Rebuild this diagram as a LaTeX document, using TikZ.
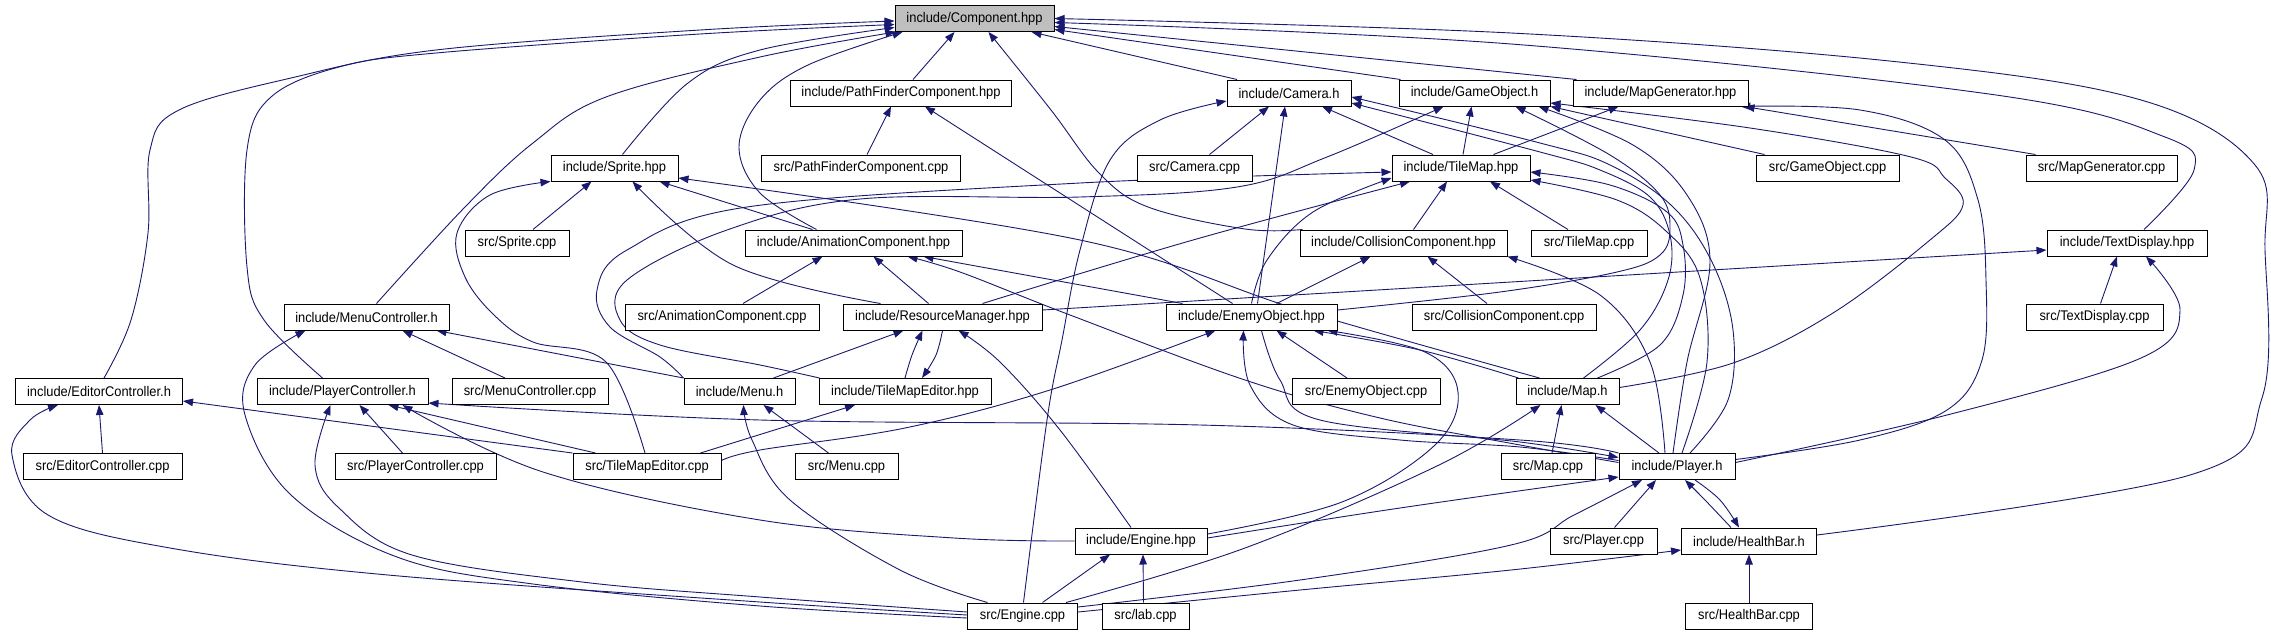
\documentclass[tikz,border=0pt]{standalone}
\usepackage{fontspec}
\setmainfont{Liberation Sans}[FakeStretch=0.92]
\usetikzlibrary{arrows.meta}
\definecolor{edgec}{HTML}{191970}
\definecolor{compfill}{HTML}{BFBFBF}
\pgfdeclarelayer{bg}
\pgfsetlayers{bg,main}
\tikzset{
  box/.style={draw=black, line width=1pt, fill=white, minimum height=26pt, inner sep=0pt, font=\fontsize{14}{16}\selectfont},
  edge/.style={draw=edgec, line width=0.9pt, -{Triangle[length=10pt,width=7.5pt]}},
  sm/.style={smooth, tension=0.6},
}
\begin{document}
\begin{tikzpicture}[x=1pt,y=-1pt]
\useasboundingbox (0,0) rectangle (2271,635);
% row 1
\node[box, minimum width=159pt, fill=compfill] (comp) at (974.5,18.5) {include/Component.hpp};
% row 2
\node[box, minimum width=221pt] (pfc) at (901,93) {include/PathFinderComponent.hpp};
\node[box, minimum width=124pt] (cam) at (1289,93) {include/Camera.h};
\node[box, minimum width=151pt] (gob) at (1474.5,93) {include/GameObject.h};
\node[box, minimum width=175pt] (mgen) at (1660.5,93) {include/MapGenerator.hpp};
% row 3
\node[box, minimum width=127pt] (spr) at (614.5,168) {include/Sprite.hpp};
\node[box, minimum width=199pt] (pfccpp) at (861,168) {src/PathFinderComponent.cpp};
\node[box, minimum width=115pt] (camcpp) at (1194.5,168) {src/Camera.cpp};
\node[box, minimum width=138pt] (tmap) at (1461,168) {include/TileMap.hpp};
\node[box, minimum width=143pt] (gobcpp) at (1827.5,168) {src/GameObject.cpp};
\node[box, minimum width=151pt] (mgencpp) at (2101.5,168) {src/MapGenerator.cpp};
% row 4
\node[box, minimum width=104pt] (sprcpp) at (517,243) {src/Sprite.cpp};
\node[box, minimum width=217pt] (anim) at (853.5,243) {include/AnimationComponent.hpp};
\node[box, minimum width=207pt] (coll) at (1403.5,243) {include/CollisionComponent.hpp};
\node[box, minimum width=116pt] (tmapcpp) at (1589,243) {src/TileMap.cpp};
\node[box, minimum width=160pt] (txt) at (2127,243) {include/TextDisplay.hpp};
% row 5
\node[box, minimum width=165pt] (menuc) at (366.5,317) {include/MenuController.h};
\node[box, minimum width=194pt] (animcpp) at (722,317) {src/AnimationComponent.cpp};
\node[box, minimum width=199pt] (res) at (942.5,317) {include/ResourceManager.hpp};
\node[box, minimum width=171pt] (enemy) at (1251.5,317) {include/EnemyObject.hpp};
\node[box, minimum width=184pt] (collcpp) at (1504,317) {src/CollisionComponent.cpp};
\node[box, minimum width=137pt] (txtcpp) at (2094.5,317) {src/TextDisplay.cpp};
% row 6
\node[box, minimum width=167pt] (edc) at (99,391.5) {include/EditorController.h};
\node[box, minimum width=171pt] (plc) at (342.5,391.5) {include/PlayerController.h};
\node[box, minimum width=156pt] (menuccpp) at (530,391.5) {src/MenuController.cpp};
\node[box, minimum width=111pt] (menu) at (739.5,391.5) {include/Menu.h};
\node[box, minimum width=172pt] (tme) at (905,391.5) {include/TileMapEditor.hpp};
\node[box, minimum width=148pt] (enemycpp) at (1366,391.5) {src/EnemyObject.cpp};
\node[box, minimum width=103pt] (map) at (1567.5,391.5) {include/Map.h};
% row 7
\node[box, minimum width=159pt] (edccpp) at (102.5,466.5) {src/EditorController.cpp};
\node[box, minimum width=161pt] (plccpp) at (415.5,466.5) {src/PlayerController.cpp};
\node[box, minimum width=148pt] (tmecpp) at (647,466.5) {src/TileMapEditor.cpp};
\node[box, minimum width=103pt] (menucpp) at (846.5,466.5) {src/Menu.cpp};
\node[box, minimum width=94pt] (mapcpp) at (1548,466.5) {src/Map.cpp};
\node[box, minimum width=116pt] (player) at (1677,466.5) {include/Player.h};
% row 8
\node[box, minimum width=132pt] (eng) at (1141,541) {include/Engine.hpp};
\node[box, minimum width=107pt] (plcpp) at (1603.5,541) {src/Player.cpp};
\node[box, minimum width=135pt] (hb) at (1749,541) {include/HealthBar.h};
% row 9
\node[box, minimum width=110pt] (engcpp) at (1022.5,616) {src/Engine.cpp};
\node[box, minimum width=87pt] (lab) at (1145.5,616) {src/lab.cpp};
\node[box, minimum width=127pt] (hbcpp) at (1749,616) {src/HealthBar.cpp};

\begin{pgfonlayer}{bg}
\fill[white] (0,0) rectangle (2271,635);
% ---- into Component.hpp
\draw[edge] plot[sm] coordinates {([shift={(5,0)}]edc.north) (131,320) (148,233) (150,150) (179,110) (291,78) (436,50) (700,30) ([shift={(0,2.5)}]comp.west)};
\draw[edge] plot[sm] coordinates {([shift={(-20,0)}]plc.north) (264,320) (247,267) (247,150) (271,97) (339,67) (436,53) (700,34) ([shift={(0,6)}]comp.west)};
\draw[edge] plot[sm] coordinates {([shift={(8,0)}]spr.north) (688,83) (760,50) ([shift={(0,9)}]comp.west)};
\draw[edge] plot[sm] coordinates {([shift={(10,0)}]menuc.north) (465,207) (533,143) (606,97) (760,57) ([shift={(1,0)}]comp.south west)};
\draw[edge] plot[sm] coordinates {([shift={(-37,0)}]anim.north) (760,193) (739,147) (760,100) (808,65) ([shift={(8,0)}]comp.south west)};
\draw[edge] ([shift={(12,0)}]pfc.north) -- ([shift={(-20,0)}]comp.south);
\draw[edge] plot[sm] coordinates {([shift={(3,0)}]coll.north west) (1245,229) (1148,207) (1099,173) (1051,110) ([shift={(14,0)}]comp.south)};
\draw[edge] ([shift={(-52,0)}]cam.north) -- ([shift={(-23,0)}]comp.south east);
\draw[edge] ([shift={(-74,0)}]gob.north) -- ([shift={(0,11)}]comp.east);
\draw[edge] ([shift={(4,0)}]mgen.north west) -- ([shift={(0,8)}]comp.east);
\draw[edge] plot[sm] coordinates {([shift={(17,0)}]txt.north) (2194,170) (2165,137) (1996,95) (1511,44) ([shift={(0,4)}]comp.east)};
\draw[edge] plot[sm] coordinates {([shift={(0,-6)}]hb.east) (2190,475) (2262,398) (2265,250) (2255,165) (2141,100) (1899,62) (1511,33) (comp.east)};
% ---- PathFinderComponent.hpp
\draw[edge] ([shift={(6,0)}]pfccpp.north) -- ([shift={(-10,0)}]pfc.south);
\draw[edge] ([shift={(-19,0)}]enemy.north) -- ([shift={(24,0)}]pfc.south);
% ---- Camera.h
\draw[edge] ([shift={(15,0)}]camcpp.north) -- ([shift={(-20,0)}]cam.south);
\draw[edge] ([shift={(-28,0)}]tmap.north) -- ([shift={(33,0)}]cam.south);
\draw[edge] ([shift={(6,0)}]enemy.north) -- ([shift={(-4,0)}]cam.south);
\draw[edge] plot[sm] coordinates {([shift={(1,0)}]engcpp.north) (1047,420) (1062,340) (1080,250) (1110,160) (1160,120) ([shift={(0,8)}]cam.west)};
\draw[edge] plot[sm] coordinates {([shift={(16,0)}]map.north) (1640,330) (1668,280) (1670,235) (1650,197) (1600,170) (1540,152) ([shift={(0,10)}]cam.east)};
\draw[edge] plot[sm] coordinates {([shift={(13,0)}]player.north) (1728,400) (1733,330) (1712,262) (1672,206) (1610,165) (1540,143) ([shift={(0,4)}]cam.east)};
% ---- GameObject.h
\draw[edge] ([shift={(2,0)}]tmap.north) -- ([shift={(-3,0)}]gob.south);
\draw[edge] plot[sm] coordinates {([shift={(1,0)}]tme.north west) (760,365) (660,345) (620,320) (627,280) (727,230) (860,199) (1080,197) (1237,187) (1327,157) ([shift={(-31,0)}]gob.south)};
\draw[edge] plot[sm] coordinates {([shift={(0,-7)}]enemy.east) (1500,292) (1617,272) (1660,255) (1670,228) (1660,195) (1610,155) ([shift={(41,0)}]gob.south)};
\draw[edge] plot[sm] coordinates {([shift={(-4,0)}]player.north) (1687,362) (1710,262) (1687,195) (1633,145) ([shift={(64,0)}]gob.south)};
\draw[edge] ([shift={(9,0)}]gobcpp.north west) -- (gob.south east);
\draw[edge] plot[sm] coordinates {([shift={(0,-4)}]map.east) (1733,363) (1833,313) (1930,240) (1963,205) (1945,178) (1911,157) (1750,128) ([shift={(0,10)}]gob.east)};
% ---- MapGenerator.hpp
\draw[edge] ([shift={(-37,0)}]tmap.north east) -- ([shift={(-42,0)}]mgen.south);
\draw[edge] ([shift={(10,0)}]mgencpp.north west) -- ([shift={(-4,0)}]mgen.south east);
\draw[edge] plot[sm] coordinates {([shift={(0,-7)}]player.east) (1860,440) (1947,410) (1982,360) (1986,280) (1978,200) (1945,140) (1860,110) ([shift={(-8,0)}]mgen.south east)};
% ---- Sprite.hpp
\draw[edge] ([shift={(16,0)}]sprcpp.north) -- ([shift={(-23,0)}]spr.south);
\draw[edge] ([shift={(-41,0)}]anim.north) -- ([shift={(45,0)}]spr.south);
\draw[edge] plot[sm] coordinates {([shift={(-62,0)}]res.north) (733,265) ([shift={(18,0)}]spr.south)};
\draw[edge] plot[sm] coordinates {([shift={(24,0)}]map.north west) (1300,310) (1080,240) ([shift={(0,10)}]spr.east)};
\draw[edge] plot[sm] coordinates {([shift={(-2,0)}]tmecpp.north) (606,362) (533,342) (494,315) (465,277) (457,233) (490,195) (spr.south west)};
% ---- AnimationComponent.hpp
\draw[edge] ([shift={(21,0)}]animcpp.north) -- ([shift={(-31,0)}]anim.south);
\draw[edge] ([shift={(-14,0)}]res.north) -- ([shift={(20,0)}]anim.south);
\draw[edge] ([shift={(17,0)}]enemy.north west) -- ([shift={(-39,0)}]anim.south east);
\draw[edge] plot[sm] coordinates {([shift={(0,-4)}]player.west) (1520,445) (1380,418) (1245,380) (1070,315) (960,272) ([shift={(-55,0)}]anim.south east)};
% ---- CollisionComponent.hpp
\draw[edge] ([shift={(25,0)}]enemy.north) -- ([shift={(-33,0)}]coll.south);
\draw[edge] ([shift={(-17,0)}]collcpp.north) -- ([shift={(24,0)}]coll.south);
\draw[edge] plot[sm] coordinates {([shift={(-12,0)}]player.north) (1650,362) (1600,295) (coll.south east)};
% ---- TileMap.hpp
\draw[edge] ([shift={(10,0)}]coll.north) -- ([shift={(-14,0)}]tmap.south);
\draw[edge] ([shift={(-21,0)}]tmapcpp.north) -- ([shift={(29,0)}]tmap.south);
\draw[edge] plot[sm] coordinates {([shift={(40,0)}]res.north) (1193,240) ([shift={(-51,0)}]tmap.south)};
\draw[edge] plot[sm] coordinates {(enemy.north) (1267,260) (1313,212) ([shift={(0,10)}]tmap.west)};
\draw[edge] plot[sm] coordinates {(menu.north west) (660,357) (610,327) (597,290) (627,250) (747,207) (1080,183) ([shift={(0,4)}]tmap.west)};
\draw[edge] plot[sm] coordinates {([shift={(30,0)}]map.north) (1660,345) (1683,295) (1683,245) (1667,212) (1610,185) ([shift={(0,4)}]tmap.east)};
\draw[edge] plot[sm] coordinates {([shift={(5,0)}]player.north) (1707,362) (1700,278) (1667,232) (1617,200) ([shift={(0,12)}]tmap.east)};
% ---- Menu.h
\draw[edge] (menu.north west) -- ([shift={(-13,0)}]menuc.south east);
\draw[edge] ([shift={(34,0)}]menu.north) -- ([shift={(-39,0)}]res.south);
\draw[edge] ([shift={(-18,0)}]menucpp.north) -- ([shift={(24,0)}]menu.south);
\draw[edge] plot[sm] coordinates {([shift={(-35,0)}]engcpp.north) (900,570) (790,500) (752,440) ([shift={(4,0)}]menu.south)};
% ---- TileMapEditor.hpp / ResourceManager.hpp
\draw[edge] plot[sm] coordinates {(tme.north) (912,355) ([shift={(-20,0)}]res.south)};
\draw[edge] plot[sm] coordinates {(res.south) (936,355) ([shift={(17,0)}]tme.north)};
\draw[edge] ([shift={(-21,0)}]tmecpp.north east) -- ([shift={(-50,0)}]tme.south);
\draw[edge] plot[sm] coordinates {([shift={(-10,0)}]eng.north) (1060,430) (1000,362) ([shift={(16,0)}]res.south)};
\draw[edge] ([shift={(0,-7)}]res.east) -- ([shift={(0,7)}]txt.west);
% ---- Engine.hpp
\draw[edge] ([shift={(20,0)}]engcpp.north) -- ([shift={(-31,0)}]eng.south);
\draw[edge] ([shift={(-2,0)}]lab.north) -- ([shift={(2,0)}]eng.south);
\draw[edge] plot[sm] coordinates {([shift={(0,-7)}]eng.east) (1342,502) (1435,445) (1458,392) (1425,352) ([shift={(-10,0)}]enemy.south east)};
\draw[edge] plot[sm] coordinates {([shift={(0,-3)}]eng.east) (1400,508) ([shift={(0,-3)}]player.south west)};
\draw[edge] plot[sm] coordinates {(eng.west) (954,538) (760,520) (543,472) ([shift={(-26,0)}]plc.south east)};
% ---- EnemyObject.hpp
\draw[edge] ([shift={(-19,0)}]enemycpp.north) -- ([shift={(25,0)}]enemy.south);
\draw[edge] plot[sm] coordinates {([shift={(3,0)}]map.north west) (1420,350) ([shift={(-24,0)}]enemy.south east)};
\draw[edge] plot[sm] coordinates {([shift={(0,-6)}]player.west) (1520,447) (1400,440) (1293,425) (1250,385) ([shift={(-8,0)}]enemy.south)};
\draw[edge] plot[sm] coordinates {([shift={(10,0)}]enemy.south) (1280,380) (1320,420) (1520,442) ([shift={(0,-9)}]player.west)};
\draw[edge] plot[sm] coordinates {([shift={(0,-6)}]tmecpp.east) (760,450) (905,428) (1050,390) ([shift={(-36,0)}]enemy.south)};
% ---- PlayerController.h
\draw[edge] ([shift={(-13,0)}]plccpp.north) -- ([shift={(17,0)}]plc.south);
\draw[edge] plot[sm] coordinates {([shift={(0,-4)}]engcpp.west) (760,597) (582,582) (412,555) (339,508) (315,465) ([shift={(-12,0)}]plc.south)};
\draw[edge] ([shift={(23,0)}]tmecpp.north west) -- ([shift={(46,0)}]plc.south);
\draw[edge] plot[sm] coordinates {(player.north west) (1520,440) (1200,425) (760,420) ([shift={(0,-2)}]plc.south east)};
% ---- EditorController.h
\draw[edge] (edccpp.north) -- (edc.south);
\draw[edge] (tmecpp.north west) -- ([shift={(0,-4)}]edc.south east);
\draw[edge] plot[sm] coordinates {([shift={(0,-1)}]engcpp.west) (760,602) (388,575) (170,548) (48,515) (12,455) (30,420) ([shift={(-41,0)}]edc.south)};
% ---- MenuController.h
\draw[edge] ([shift={(-25,0)}]menuccpp.north) -- ([shift={(36,0)}]menuc.south);
\draw[edge] plot[sm] coordinates {([shift={(0,2)}]engcpp.west) (760,606) (533,584) (397,557) (291,495) (245,415) (255,365) ([shift={(-61,0)}]menuc.south)};
% ---- HealthBar.h
\draw[edge] (hbcpp.north) -- (hb.south);
\draw[edge] plot[sm] coordinates {([shift={(18,0)}]player.south) (1720,500) ([shift={(-10,0)}]hb.north)};
\draw[edge] plot[sm] coordinates {([shift={(-18,0)}]hb.north) (1705,500) ([shift={(8,0)}]player.south)};
\draw[edge] plot[sm] coordinates {([shift={(0,-4)}]engcpp.east) (1300,590) (1511,570) ([shift={(0,9)}]hb.west)};
% ---- Player.h / Map.h / TextDisplay.hpp
\draw[edge] ([shift={(11,0)}]plcpp.north) -- ([shift={(-21,0)}]player.south);
\draw[edge] ([shift={(-18,0)}]player.north) -- ([shift={(28,0)}]map.south);
\draw[edge] ([shift={(4,0)}]mapcpp.north) -- ([shift={(-6,0)}]map.south);
\draw[edge] plot[sm] coordinates {([shift={(-12,0)}]engcpp.north east) (1245,548) (1439,465) ([shift={(-27,0)}]map.south)};
\draw[edge] plot[sm] coordinates {([shift={(0,-9)}]engcpp.east) (1300,580) (1511,545) (1574,515) ([shift={(-35,0)}]player.south)};
\draw[edge] plot[sm] coordinates {([shift={(0,-4)}]player.east) (1947,415) (2141,358) (2180,310) ([shift={(19,0)}]txt.south)};
\draw[edge] ([shift={(6,0)}]txtcpp.north) -- ([shift={(-10,0)}]txt.south);
\end{pgfonlayer}
\end{tikzpicture}
\end{document}
